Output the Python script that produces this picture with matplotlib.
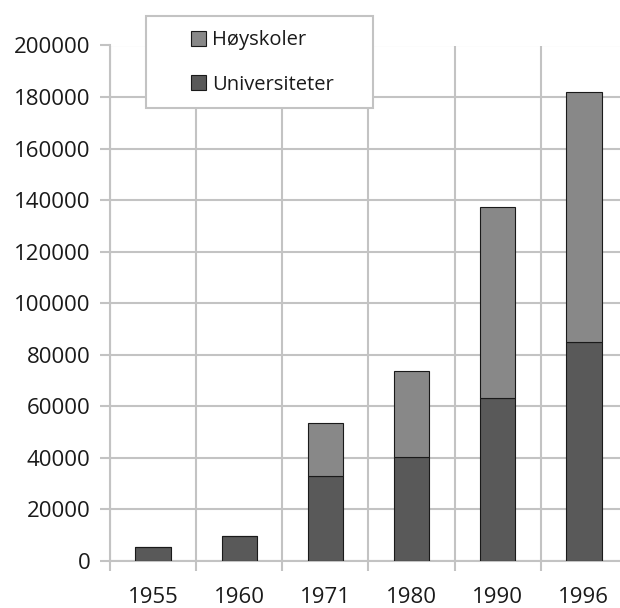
import numpy as np
import matplotlib.pyplot as plt
from matplotlib.patches import Rectangle

plt.rcParams['font.family'] = ['Open Sans', 'DejaVu Sans']

years = ['1955', '1960', '1971', '1980', '1990', '1996']
universiteter = [5600, 9700, 33000, 40500, 63200, 84900]
hoyskoler = [0, 0, 20400, 33300, 74000, 97200]

grid_col = '#c3c3c3'
fs = 16

fig = plt.figure(figsize=(6.2, 6.08), dpi=100)
W, H = 620, 608
ax = fig.add_axes([110 / W, 47 / H, 517 / W, 515.5 / H])

x = np.arange(len(years))
ax.bar(x, universiteter, width=0.41, color='#595959', edgecolor='#1a1a1a',
       linewidth=0.8, label='Universiteter', zorder=3)
ax.bar(x, hoyskoler, width=0.41, bottom=universiteter, color='#888888',
       edgecolor='#1a1a1a', linewidth=0.8, label='Høyskoler', zorder=3)

ax.set_xlim(-0.5, len(years) - 0.5)
ax.set_ylim(0, 200000)
ax.set_yticks(np.arange(0, 200001, 20000))
ax.set_xticks(np.arange(-0.5, len(years), 1.0))
ax.set_xticklabels([])
ax.set_xticks(x, minor=True)
ax.set_xticklabels(years, minor=True)

ax.tick_params(axis='y', length=7, width=1.5, color=grid_col, pad=7,
               labelsize=fs, labelcolor='#1a1a1a')
ax.tick_params(axis='x', which='major', length=7, width=1.5, color=grid_col)
ax.tick_params(axis='x', which='minor', length=0, pad=18.5,
               labelsize=fs, labelcolor='#1a1a1a')

ax.grid(True, which='major', color=grid_col, linewidth=1.5, zorder=0)
ax.set_axisbelow(True)
for side in ['top', 'right']:
    ax.spines[side].set_visible(False)
for side in ['left', 'bottom']:
    ax.spines[side].set_color(grid_col)
    ax.spines[side].set_linewidth(1.5)

# legend box sits over the top of the plot area
fig.patches.append(Rectangle((146 / W, 1 - 108 / H), 226.5 / W, 92 / H,
                             transform=fig.transFigure, facecolor='white',
                             edgecolor=grid_col, linewidth=1.5, zorder=5))
handles, labels = ax.get_legend_handles_labels()
leg = fig.legend(handles[::-1], labels[::-1], loc='center',
                 bbox_to_anchor=(262 / W, 1 - 62.5 / H), frameon=False,
                 fontsize=14.5, borderpad=0, handlelength=0.75,
                 handleheight=0.75, handletextpad=0.3, labelspacing=1.22)
leg.set_zorder(6)
for t in leg.get_texts():
    t.set_color('#1a1a1a')

fig.savefig('out.png', dpi=100)
